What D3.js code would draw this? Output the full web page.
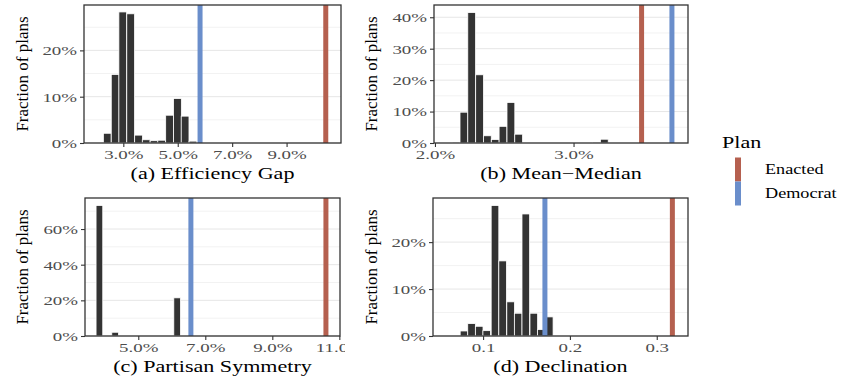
<!DOCTYPE html>
<html><head><meta charset="utf-8">
<script src="https://cdn.jsdelivr.net/npm/d3@7"></script>
<style>
html,body{margin:0;padding:0;background:#fff;}
svg{display:block;}
</style></head>
<body><svg id="chart" width="841" height="377"></svg>
<script>
// ---------- data ----------
const planNames = ["Enacted", "Democrat"];
const planColors = ["#b5604f", "#6a8ecb"];

// (a) Efficiency Gap (%)
const effGapCenters = [2.41,2.70,2.98,3.27,3.56,3.84,4.13,4.41,4.70,4.99,5.27,5.56];
const effGapFrac    = [2.1,14.8,28.3,27.9,1.7,0.7,0.5,0.6,6.0,9.6,5.8,0.4];
const effGapBinW = 0.286;
const effGapPlans = [10.44, 5.82];
const effGapXTicks = [3, 5, 7, 9];
const effGapYTicks = [0, 10, 20];

// (b) Mean-Median (%)
const meanMedCenters = [2.152,2.209,2.265,2.322,2.378,2.435,2.491,2.548,2.604,3.165,3.222];
const meanMedFrac    = [0.3,9.8,41.5,21.7,2.3,1.1,5.3,12.9,2.8,0.3,1.2];
const meanMedBinW = 0.0565;
const meanMedPlans = [3.491, 3.71];
const meanMedXTicks = [2, 3];
const meanMedYTicks = [0, 10, 20, 30, 40];

// (c) Partisan Symmetry (%)
const partSymCenters = [3.84, 4.31, 6.16];
const partSymFrac    = [73.2, 2.1, 21.4];
const partSymBinW = 0.2;
const partSymPlans = [10.60, 6.57];
const partSymXTicks = [5, 7, 9, 11];
const partSymYTicks = [0, 20, 40, 60];

// (d) Declination
const declCenters = [0.078,0.0867,0.0955,0.1042,0.1137,0.1225,0.1317,0.1404,0.1492,0.1584,0.1670,0.1762];
const declFrac    = [1.07,2.64,2.07,1.14,27.8,16.0,7.28,4.85,26.0,4.85,1.36,4.07];
const declBinW = 0.0088;
const declPlans = [0.318, 0.1712];
const declXTicks = [0.1, 0.2, 0.3];
const declYTicks = [0, 10, 20];

const panelTitles = ["(a) Efficiency Gap", "(b) Mean\u2212Median", "(c) Partisan Symmetry", "(d) Declination"];
const yAxisTitle = "Fraction of plans";
const legendTitle = "Plan";

// ---------- layout ----------
const FONT = "Liberation Serif";
const SX = 1.3;   // horizontal text stretch of the reference
const SXT = 1.4;  // stretch for tick labels
const panels = [
  {centers: effGapCenters, frac: effGapFrac, bw: effGapBinW, plans: effGapPlans, xt: effGapXTicks, yt: effGapYTicks,
   xdom: [1.555, 11.0], ymax: 29.8, box: [84, 5, 341, 143], fmt: d => d.toFixed(1) + "%", ytitleX: 22, clipW: 345},
  {centers: meanMedCenters, frac: meanMedFrac, bw: meanMedBinW, plans: meanMedPlans, xt: meanMedXTicks, yt: meanMedYTicks,
   xdom: [1.993, 3.826], ymax: 43.9, box: [434, 5, 688, 143], fmt: d => d.toFixed(1) + "%", ytitleX: 371, clipW: 400},
  {centers: partSymCenters, frac: partSymFrac, bw: partSymBinW, plans: partSymPlans, xt: partSymXTicks, yt: partSymYTicks,
   xdom: [3.41, 11.02], ymax: 77.4, box: [85, 198, 340, 336], fmt: d => d.toFixed(1) + "%", ytitleX: 22, clipW: 345},
  {centers: declCenters, frac: declFrac, bw: declBinW, plans: declPlans, xt: declXTicks, yt: declYTicks,
   xdom: [0.0423, 0.336], ymax: 29.4, box: [433, 198, 688, 336], fmt: d => d3.format(".1f")(d), ytitleX: 371, clipW: 400}
];

const svg = d3.select("#chart").style("font-family", FONT);
const defs = svg.append("defs");

panels.forEach((p, i) => {
  const [x0, y0, x1, y1] = p.box;
  const colX = i % 2 === 0 ? 0 : 345;
  defs.append("clipPath").attr("id", "clip" + i).append("rect")
    .attr("x", colX).attr("y", 0).attr("width", p.clipW).attr("height", 377);
  const g = svg.append("g").attr("clip-path", `url(#clip${i})`);

  const x = d3.scaleLinear().domain(p.xdom).range([x0, x1]);
  const y = d3.scaleLinear().domain([0, p.ymax]).range([y1, y0]);

  // grid (major + minor)
  const step = p.yt[1] - p.yt[0];
  const minor = [];
  for (let v = step / 2; v < p.ymax; v += step) minor.push(v);
  g.append("g").selectAll("line").data(minor).join("line")
    .attr("x1", x0).attr("x2", x1).attr("y1", d => y(d)).attr("y2", d => y(d))
    .attr("stroke", "#f2f2f2").attr("stroke-width", 1);
  g.append("g").selectAll("line").data(p.yt).join("line")
    .attr("x1", x0).attr("x2", x1).attr("y1", d => y(d)).attr("y2", d => y(d))
    .attr("stroke", "#e6e6e6").attr("stroke-width", 1);

  // bars
  g.append("g").selectAll("rect").data(p.centers.map((c, k) => ({c, v: p.frac[k]}))).join("rect")
    .attr("x", d => x(d.c - p.bw / 2)).attr("width", d => x(d.c + p.bw / 2) - x(d.c - p.bw / 2))
    .attr("y", d => y(d.v)).attr("height", d => y(0) - y(d.v))
    .attr("fill", "#333333").attr("stroke", "#ffffff").attr("stroke-width", 0.8);

  // plan lines
  g.append("g").selectAll("line").data(p.plans).join("line")
    .attr("x1", d => x(d)).attr("x2", d => x(d)).attr("y1", y0).attr("y2", y1)
    .attr("stroke", (d, k) => planColors[k]).attr("stroke-width", 5);

  // border
  g.append("rect").attr("x", x0).attr("y", y0).attr("width", x1 - x0).attr("height", y1 - y0)
    .attr("fill", "none").attr("stroke", "#333333").attr("stroke-width", 1.3);

  // axes
  const xa = g.append("g").attr("transform", `translate(0,${y1})`)
    .call(d3.axisBottom(x).tickValues(p.xt).tickFormat(p.fmt).tickSize(4).tickPadding(2));
  xa.attr("font-family", FONT);
  xa.select(".domain").remove();
  xa.selectAll(".tick line").attr("stroke", "#333333").attr("stroke-width", 1.1);
  xa.selectAll("text").attr("fill", "#4d4d4d").attr("font-size", 13.5)
    .style("font-family", FONT).attr("transform", `scale(${SXT},1)`);

  const ya = g.append("g").attr("transform", `translate(${x0},0)`)
    .call(d3.axisLeft(y).tickValues(p.yt).tickFormat(d => d + "%").tickSize(4).tickPadding(3));
  ya.attr("font-family", FONT);
  ya.select(".domain").remove();
  ya.selectAll(".tick line").attr("stroke", "#333333").attr("stroke-width", 1.1);
  ya.selectAll("text").attr("fill", "#4d4d4d").attr("font-size", 13.5)
    .style("font-family", FONT)
    .attr("x", -7 / SXT).attr("transform", `scale(${SXT},1)`);

  // x title
  const cx = (x0 + x1) / 2;
  g.append("text").attr("transform", `translate(${cx},${y1 + 36}) scale(${SX},1)`)
    .style("font-family", FONT)
    .attr("text-anchor", "middle").attr("font-size", 17).attr("fill", "#000").text(panelTitles[i]);

  // y title
  g.append("text").attr("transform", `translate(${p.ytitleX},${(y0 + y1) / 2}) rotate(-90)`)
    .style("font-family", FONT)
    .attr("text-anchor", "middle").attr("dy", "0.35em").attr("font-size", 17).attr("fill", "#000").text(yAxisTitle);
});

// legend
const lg = svg.append("g");
lg.append("text").attr("transform", `translate(722,148) scale(${SX},1)`).style("font-family", FONT)
  .attr("font-size", 17).text(legendTitle);
planNames.forEach((n, k) => {
  lg.append("rect").attr("x", 735).attr("y", 157.5 + k * 24).attr("width", 6).attr("height", 24)
    .attr("fill", planColors[k]);
  lg.append("text").attr("transform", `translate(765,${174 + k * 24}) scale(${SX},1)`).style("font-family", FONT)
    .attr("font-size", 14).text(n);
});
</script></body></html>
